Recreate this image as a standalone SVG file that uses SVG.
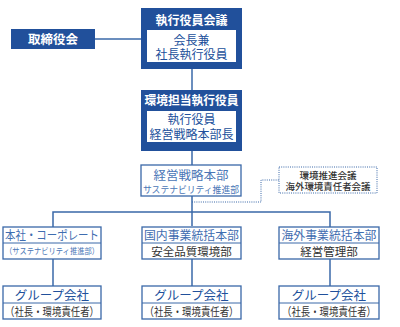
<svg xmlns="http://www.w3.org/2000/svg" width="400" height="327" viewBox="0 0 400 327">
<style>
text{font-family:"Noto Sans CJK JP","Noto Sans CJK SC",sans-serif;text-anchor:middle}
.dark{fill:#21509b}
.inner{fill:#fff}
.wb{fill:#fff;stroke:#3a68a8;stroke-width:1.3}
.div{stroke:#3a68a8;stroke-width:1}
.wt{fill:#fff;font-weight:bold;font-size:12px}
.bt{fill:#21509b;font-size:12px}
.lt{fill:#3f6db0;font-size:12px}
.gt{fill:#333;font-size:11.5px}
.line{stroke:#3a68a8;stroke-width:1.5;fill:none}
.dot{stroke:#3a68a8;stroke-width:1;fill:none;stroke-dasharray:1 1.2}
</style>
<rect width="400" height="327" fill="#fff"/>
<g id="connectors">
<line class="line" x1="95" y1="39" x2="141" y2="39"/>
<line class="line" x1="192" y1="69" x2="192" y2="90"/>
<line class="line" x1="192" y1="151" x2="192" y2="165"/>
<line class="line" x1="192" y1="196" x2="192" y2="226"/>
<polyline class="line" points="53,227 53,212 330,212 330,227"/>
<line class="line" x1="53" y1="259" x2="53" y2="286"/>
<line class="line" x1="192" y1="259" x2="192" y2="286"/>
<line class="line" x1="330" y1="259" x2="330" y2="286"/>
<polyline class="dot" points="192,202 261,202 261,180 279,180"/>
</g>
<g id="board">
<rect class="dark" x="11" y="29" width="84" height="20"/>
<text class="wt" x="53" y="43.5" style="font-size:12.5px">取締役会</text>
</g>
<g id="exec-meeting">
<rect class="dark" x="141" y="8" width="101" height="61"/>
<rect class="inner" x="147" y="30" width="89" height="32"/>
<text class="wt" x="191.5" y="24.5">執行役員会議</text>
<text class="bt" x="191.5" y="44.5">会長兼</text>
<text class="bt" x="191.5" y="58.5">社長執行役員</text>
</g>
<g id="env-officer">
<rect class="dark" x="141" y="90" width="101" height="61"/>
<rect class="inner" x="147" y="111" width="89" height="31"/>
<text class="wt" x="191.5" y="104.5" textLength="94" lengthAdjust="spacingAndGlyphs">環境担当執行役員</text>
<text class="bt" x="191.5" y="123.5">執行役員</text>
<text class="bt" x="191.5" y="139">経営戦略本部長</text>
</g>
<g id="strategy">
<rect class="wb" x="141" y="165" width="100" height="31"/>
<text class="lt" x="191" y="179.5" style="font-size:12.5px;fill:#4a76b6">経営戦略本部</text>
<text class="lt" x="191" y="192.5" style="font-size:9.5px;fill:#4a76b6" textLength="96" lengthAdjust="spacingAndGlyphs">サステナビリティ推進部</text>
</g>
<g id="meetings">
<rect class="dot" x="279" y="167" width="98" height="26"/>
<text class="gt" x="328" y="179" style="font-size:9.5px;font-weight:500">環境推進会議</text>
<text class="gt" x="328" y="190" style="font-size:9.5px;font-weight:500" textLength="85" lengthAdjust="spacingAndGlyphs">海外環境責任者会議</text>
</g>
<g id="corporate">
<rect class="wb" x="3" y="227" width="98" height="32"/>
<line class="div" x1="3" y1="243" x2="101" y2="243"/>
<text class="lt" x="52" y="239.5" textLength="94" lengthAdjust="spacingAndGlyphs">本社・コーポレート</text>
<text class="lt" x="52" y="254" style="font-size:8.5px;fill:#4a76b6" textLength="94" lengthAdjust="spacingAndGlyphs">（サステナビリティ推進部）</text>
</g>
<g id="domestic">
<rect class="wb" x="142" y="227" width="99" height="32"/>
<line class="div" x1="142" y1="243" x2="241" y2="243"/>
<text class="lt" x="191.5" y="239.5" textLength="95" lengthAdjust="spacingAndGlyphs">国内事業統括本部</text>
<text class="gt" x="191.5" y="255.5">安全品質環境部</text>
</g>
<g id="overseas">
<rect class="wb" x="279" y="227" width="100" height="32"/>
<line class="div" x1="279" y1="243" x2="379" y2="243"/>
<text class="lt" x="329" y="239.5" textLength="95" lengthAdjust="spacingAndGlyphs">海外事業統括本部</text>
<text class="gt" x="329" y="255.5">経営管理部</text>
</g>
<g id="group1">
<rect class="wb" x="3" y="286" width="98" height="33"/>
<line class="div" x1="3" y1="303" x2="101" y2="303"/>
<text class="bt" x="52" y="299.5" style="font-size:12.5px">グループ会社</text>
<text class="gt" x="52" y="315.5" textLength="94" lengthAdjust="spacingAndGlyphs">（社長・環境責任者）</text>
</g>
<g id="group2">
<rect class="wb" x="142" y="286" width="99" height="33"/>
<line class="div" x1="142" y1="303" x2="241" y2="303"/>
<text class="bt" x="191.5" y="299.5" style="font-size:12.5px">グループ会社</text>
<text class="gt" x="191.5" y="315.5" textLength="94" lengthAdjust="spacingAndGlyphs">（社長・環境責任者）</text>
</g>
<g id="group3">
<rect class="wb" x="279" y="286" width="100" height="33"/>
<line class="div" x1="279" y1="303" x2="379" y2="303"/>
<text class="bt" x="329" y="299.5" style="font-size:12.5px">グループ会社</text>
<text class="gt" x="329" y="315.5" textLength="94" lengthAdjust="spacingAndGlyphs">（社長・環境責任者）</text>
</g>
</svg>
